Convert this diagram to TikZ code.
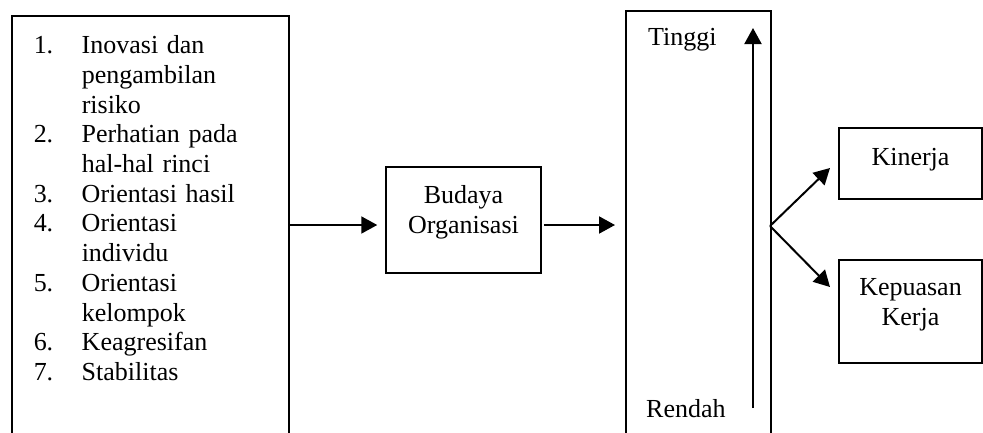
\documentclass[tikz,border=0pt]{standalone}
\usepackage{fontspec}
\setmainfont{Liberation Serif}
\usetikzlibrary{arrows.meta}

\begin{document}
\begin{tikzpicture}[x=1pt, y=-1pt, >={Triangle[length=16pt, width=17pt]},
    font=\fontsize{26}{29.7}\selectfont]
    \tikzset{kotak/.style = {rectangle, draw, line width=1.5pt, inner sep=0pt}}
    \tikzset{panah/.style = {draw, ->, line width=2pt}}
    \useasboundingbox (0,0) rectangle (983,432);

    % Kotak dimensi budaya
    \node [kotak, anchor=north west, minimum width=277pt, text width=233pt,
           align=left, text height=38pt, text depth=407pt] (kriteria) at (11,15) {%
        \noindent\begin{tabular}[t]{@{}p{48pt}@{}l@{}}
        1. & Inovasi dan \\
           & pengambilan \\
           & risiko \\
        2. & Perhatian pada \\
           & hal-hal rinci \\
        3. & Orientasi hasil \\
        4. & Orientasi \\
           & individu \\
        5. & Orientasi \\
           & kelompok \\
        6. & Keagresifan \\
        7. & Stabilitas
        \end{tabular}};
    \node [kotak, anchor=base, minimum width=155pt, align=center,
           text height=66pt, text depth=40pt] (budaya) at (463.5,233) {Budaya\\Organisasi};
    \node [kotak, anchor=north west, minimum width=145pt, minimum height=450pt] (skala) at (625,10) {};
    \node [anchor=base west, inner sep=0pt] (tinggi) at (648,45) {Tinggi};
    \node [anchor=base west, inner sep=0pt] (rendah) at (646,417) {Rendah};
    \node [kotak, anchor=base, minimum width=143pt, align=center,
           text height=37pt, text depth=34pt] (kinerja) at (910.5,165) {Kinerja};
    \node [kotak, anchor=base, minimum width=143pt, align=center,
           text height=65pt, text depth=38pt] (kepuasan) at (910.5,325) {Kepuasan\\Kerja};

    % Titik bantu
    \coordinate (jalur) at (0,225);
    \coordinate (bawah) at (753,408);
    \coordinate (atas) at (753,28);
    \coordinate (cabang) at (770,226);
    \coordinate (ujungatas) at (830,168);
    \coordinate (ujungbawah) at (830,287);

    % Panah
    \draw [panah] (kriteria.east |- jalur) -- ([xshift=-8pt]budaya.west |- jalur);
    \draw [panah] ([xshift=2pt]budaya.east |- jalur) -- ([xshift=-10pt]skala.west |- jalur);
    \draw [panah] (bawah) -- (atas);
    \draw [panah] (cabang) -- (ujungatas);
    \draw [panah] (cabang) -- (ujungbawah);
\end{tikzpicture}
\end{document}
